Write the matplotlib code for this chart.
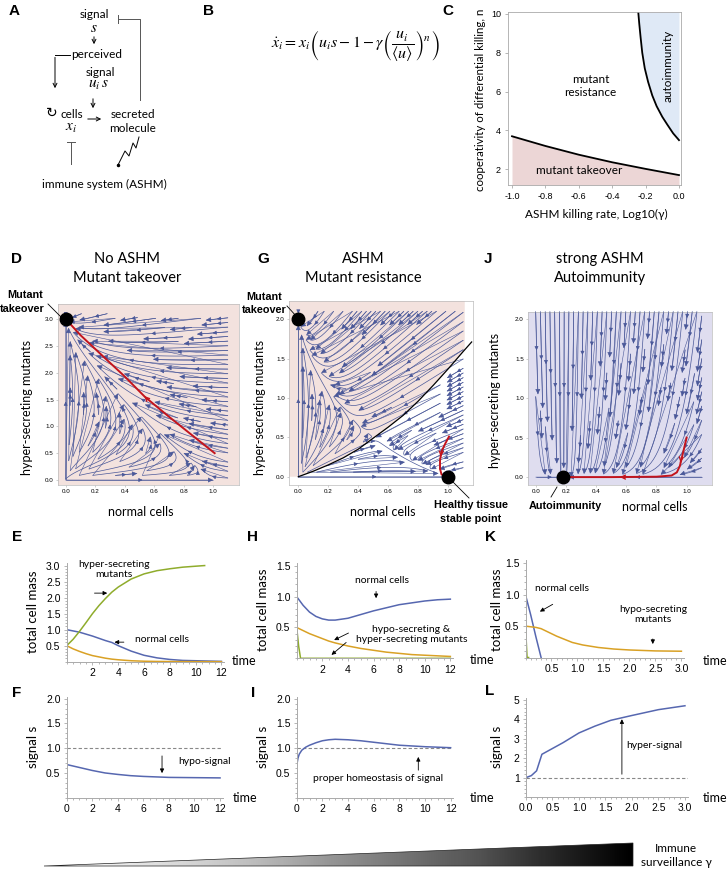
import numpy as np
import matplotlib
matplotlib.use('Agg')
import matplotlib.pyplot as plt
from matplotlib.patches import Polygon

plt.rcParams['font.family'] = ['Liberation Sans', 'DejaVu Sans']
plt.rcParams['mathtext.fontset'] = 'stix'

W, H = 727, 871
LAB = 'Lato'
BLUE = '#5667b0'
ORANGE = '#d9a125'
GREEN = '#8fac2c'
RED = '#c3141c'
STREAM = '#4a5899'

# ---------------- data ----------------
# panel C phase boundaries
low_x = [-1.0, -0.8, -0.6, -0.4, -0.2, 0.0]
low_n = [3.7, 3.2, 2.75, 2.36, 2.02, 1.7]
up_x = [-0.244, -0.238, -0.23, -0.22, -0.205, -0.185, -0.16, -0.134, -0.1, -0.07, -0.035, 0.0]
up_n = [10.1, 9.5, 8.8, 8.0, 7.2, 6.5, 5.8, 5.25, 4.7, 4.3, 3.85, 3.5]

# phase portrait models (Lotka-Volterra style competition)
D_a, D_b, D_r, D_K = 0.6, 0.3, 0.6, 3.0
G_a, G_b, G_r, G_K = 1.0, 1.5, 1.0, 2.0
J_fix, J_rx, J_ry = 0.18, 0.5, 4.0

D_red_x = [0.0, 0.1, 0.232, 0.4, 0.537, 0.7, 0.85, 1.01]
D_red_y = [3.0, 2.7, 2.36, 1.93, 1.55, 1.18, 0.85, 0.5]
G_sep_x = [0, 0.1, 0.2, 0.3, 0.4, 0.5, 0.6, 0.7, 0.8, 0.9, 1.0, 1.1, 1.156]
G_sep_y = [0, 0.07, 0.15, 0.24, 0.35, 0.49, 0.63, 0.78, 0.96, 1.16, 1.37, 1.59, 1.71]
G_red_x = [1.005, 0.98, 0.955, 0.945, 0.945, 0.955, 0.975, 1.0]
G_red_y = [0.51, 0.42, 0.32, 0.21, 0.1, 0.03, 0.005, 0.0]
J_red_x = [1.0, 0.985, 0.97, 0.955, 0.935, 0.9, 0.8, 0.5, 0.18]
J_red_y = [0.5, 0.38, 0.26, 0.14, 0.06, 0.02, 0.005, 0.0, 0.0]

# time courses
tE = [0, 0.5, 1, 1.5, 2, 2.5, 3, 3.5, 4, 5, 6, 7, 8, 9, 10, 12]
E_normal = [1.0, 0.96, 0.92, 0.86, 0.8, 0.73, 0.66, 0.6, 0.5, 0.33, 0.2, 0.12, 0.07, 0.04, 0.03, 0.01]
E_hypo = [0.5, 0.4, 0.32, 0.25, 0.19, 0.15, 0.11, 0.08, 0.06, 0.03, 0.015, 0.008, 0.005, 0.003, 0.002, 0.0]
tE_hyper = [0, 0.5, 1, 1.5, 2, 2.5, 3, 3.5, 4, 5, 6, 7, 8, 9, 10, 10.7]
E_hyper = [0.5, 0.7, 0.95, 1.22, 1.5, 1.75, 1.97, 2.17, 2.33, 2.58, 2.74, 2.84, 2.9, 2.95, 2.98, 3.0]

tH = [0, 0.5, 1, 1.5, 2, 2.5, 3, 4, 5, 6, 7, 8, 9, 10, 11, 12]
H_normal = [1.0, 0.86, 0.75, 0.68, 0.64, 0.62, 0.62, 0.65, 0.71, 0.77, 0.82, 0.87, 0.9, 0.93, 0.95, 0.96]
H_hypo = [0.5, 0.45, 0.4, 0.36, 0.32, 0.28, 0.25, 0.2, 0.16, 0.13, 0.1, 0.08, 0.06, 0.05, 0.04, 0.03]
tH_hyper = [0, 0.15, 0.3, 12]
H_hyper = [0.5, 0.2, 0.0, 0.0]

tK_normal = [0, 0.1, 0.2, 0.3]
K_normal = [1.0, 0.68, 0.33, 0.0]
tK = [0, 0.1, 0.2, 0.3, 0.4, 0.5, 0.6, 0.75, 0.9, 1.1, 1.4, 1.7, 2.0, 2.5, 3.0]
K_hypo = [0.5, 0.49, 0.48, 0.46, 0.42, 0.38, 0.34, 0.29, 0.24, 0.2, 0.16, 0.135, 0.12, 0.105, 0.1]
tK_hyper = [0, 0.03, 0.06]
K_hyper = [0.5, 0.0, 0.0]

tF = [0, 1, 2, 3, 4, 5, 6, 7, 8, 10, 12]
F_signal = [0.67, 0.61, 0.55, 0.5, 0.47, 0.445, 0.43, 0.42, 0.41, 0.405, 0.4]
tI = [0, 0.1, 0.2, 0.4, 0.7, 1.0, 1.5, 2, 2.5, 3, 4, 5, 6, 7, 8, 9, 10, 11, 12]
I_signal = [0.65, 0.8, 0.88, 0.96, 1.02, 1.06, 1.11, 1.15, 1.17, 1.18, 1.17, 1.15, 1.12, 1.09, 1.06, 1.045, 1.03, 1.02, 1.01]
tL = [0, 0.1, 0.2, 0.3, 0.4, 0.5, 0.7, 1.0, 1.3, 1.6, 2.0, 2.5, 3.0]
L_signal = [1.0, 1.1, 1.35, 2.2, 2.35, 2.5, 2.8, 3.3, 3.65, 3.95, 4.2, 4.5, 4.7]
set_point = 1.0

fig = plt.figure(figsize=(W / 100, H / 100), dpi=100)


def px_axes(l, t, r, b):
    return fig.add_axes([l / W, 1 - b / H, (r - l) / W, (b - t) / H])


# ================ panel C =================
axc = px_axes(508, 12, 681, 185)
axc.set_xlim(-1.024, 0.012)
axc.set_ylim(1.19, 10.1)
axc.fill_between(low_x, 1.19, low_n, color='#ecd6d6', lw=0)
axc.fill_betweenx(up_n, up_x, 0, color='#dfe9f6', lw=0)
axc.plot(low_x, low_n, color='k', lw=1.3)
axc.plot(up_x, up_n, color='k', lw=1.3)
axc.set_xticks([-1.0, -0.8, -0.6, -0.4, -0.2, 0.0])
axc.set_xticklabels(['-1.0', '-0.8', '-0.6', '-0.4', '-0.2', '0.0'])
axc.set_yticks([2, 4, 6, 8, 10])
axc.tick_params(labelsize=6.5, length=2, width=0.5, color='#999999', pad=3)
for s in axc.spines.values():
    s.set_color('#aaaaaa')
    s.set_linewidth(0.6)
axc.text(-0.53, 6.3, 'mutant\nresistance', ha='center', va='center', fontsize=8.5, family=LAB)
axc.text(-0.6, 1.95, 'mutant takeover', ha='center', va='center', fontsize=8.5, family=LAB)
axc.text(-0.065, 7.3, 'autoimmunity', ha='center', va='center', rotation=90, fontsize=8.5, family=LAB)


# ================ phase portraits =================
def style_phase(ax, yticks):
    ax.set_xticks([0, 0.2, 0.4, 0.6, 0.8, 1.0])
    ax.set_xticklabels(['0.0', '0.2', '0.4', '0.6', '0.8', '1.0'])
    ax.set_yticks(yticks)
    ax.set_yticklabels(['%.1f' % v for v in yticks])
    ax.tick_params(labelsize=4.5, length=1.5, width=0.4, color='#aaaaaa', pad=1.5)
    for s in ax.spines.values():
        s.set_color('#bbbbbb')
        s.set_linewidth(0.5)


def stream(ax, u, v, xmax, ymax, dens, spacing):
    X, Y = np.meshgrid(np.linspace(0, xmax, 120), np.linspace(0, ymax, 120))
    sp = ax.streamplot(X, Y, u(X, Y), v(X, Y), density=dens, color=STREAM, linewidth=0.5,
                       arrowsize=0.55, arrowstyle='-|>')
    # extra arrowheads along each streamline, Mathematica style
    acc, prev = 0.0, None
    for seg in sp.lines.get_segments():
        p0, p1 = seg[0], seg[-1]
        if prev is None or abs(p0[0] - prev[0]) > 1e-9 or abs(p0[1] - prev[1]) > 1e-9:
            acc = spacing * 0.5
        acc += np.hypot((p1[0] - p0[0]) / xmax, (p1[1] - p0[1]) / ymax)
        if acc >= spacing:
            ax.annotate('', xy=(p1[0], p1[1]), xytext=(p0[0], p0[1]),
                        arrowprops=dict(arrowstyle='-|>,head_length=0.5,head_width=0.25', color=STREAM,
                                        lw=0.4, mutation_scale=6, shrinkA=0, shrinkB=0))
            acc = 0.0
        prev = p1


def red_path(ax, xs, ys, arrows):
    ax.plot(xs, ys, color=RED, lw=1.4, zorder=5)
    for (x0, y0, x1, y1) in arrows:
        ax.annotate('', xy=(x1, y1), xytext=(x0, y0),
                    arrowprops=dict(arrowstyle='->', color=RED, lw=1.0, mutation_scale=7), zorder=6)


# D
axd = px_axes(58, 304, 239, 485)
axd.set_facecolor('#f3e2de')
stream(axd, lambda x, y: x * (1 - x - D_a * y), lambda x, y: D_r * y * (1 - y / D_K - D_b * x),
       1.1, 3.1, 1.25, 0.07)
axd.set_xlim(-0.052, 1.175)
axd.set_ylim(-0.093, 3.28)
red_path(axd, D_red_x, D_red_y, [(0.56, 1.49, 0.52, 1.6)])
axd.plot([D_red_x[0]], [D_red_y[0]], 'o', color='k', ms=9, zorder=7)
style_phase(axd, [0, 0.5, 1.0, 1.5, 2.0, 2.5, 3.0])

# G
axg = px_axes(289, 301, 473, 485)
pink = [(-0.062, 0.0)] + [(x, y) for x, y in zip(G_sep_x, G_sep_y) if x <= 1.11] + [(1.11, 1.62), (1.11, 2.23), (-0.062, 2.23)]
axg.add_patch(Polygon(pink, closed=True, color='#f3e2de', lw=0, zorder=0))
stream(axg, lambda x, y: x * (1 - x - G_a * y), lambda x, y: G_r * y * (1 - y / G_K - G_b * x),
       1.1, 2.1, 1.25, 0.07)
axg.plot(G_sep_x, G_sep_y, color='k', lw=0.9, zorder=4)
axg.set_xlim(-0.062, 1.165)
axg.set_ylim(-0.105, 2.23)
red_path(axg, G_red_x, G_red_y, [(0.952, 0.3, 0.946, 0.22)])
axg.plot([0.0, 1.0], [2.0, 0.0], 'o', color='k', ms=9, zorder=7)
style_phase(axg, [0, 0.5, 1.0, 1.5, 2.0])

# J
axj = px_axes(528, 312, 712, 485)
axj.set_facecolor('#dfddef')
stream(axj, lambda x, y: J_rx * (J_fix - x), lambda x, y: -J_ry * y, 1.1, 2.1, 1.2, 0.06)
axj.set_xlim(-0.051, 1.168)
axj.set_ylim(-0.10, 2.09)
red_path(axj, J_red_x, J_red_y, [(0.962, 0.22, 0.956, 0.15), (0.6, 0.0, 0.54, 0.0)])
axj.plot([J_fix], [0.0], 'o', color='k', ms=9, zorder=7)
style_phase(axj, [0, 0.5, 1.0, 1.5, 2.0])


# ================ time courses =================
def style_time(ax, xt, xl, yt, yl):
    ax.set_xticks(xt)
    ax.set_xticklabels(xl)
    ax.set_yticks(yt)
    ax.set_yticklabels(yl)
    ax.spines['top'].set_visible(False)
    ax.spines['right'].set_visible(False)
    for s in ('left', 'bottom'):
        ax.spines[s].set_color('#aaaaaa')
        ax.spines[s].set_linewidth(0.7)
    ax.minorticks_on()
    ax.tick_params(which='both', labelsize=7.5, length=2.5, width=0.5, color='#999999', pad=2)
    ax.tick_params(which='minor', length=1.2)
    ax.set_facecolor('none')


def arrow(ax, x0, y0, x1, y1):
    ax.annotate('', xy=(x1, y1), xytext=(x0, y0),
                arrowprops=dict(arrowstyle='-|>', color='k', lw=0.6, mutation_scale=6))


# E
axe = px_axes(66.7, 563, 224, 661.7)
axe.plot(tE, E_normal, color=BLUE, lw=1.1)
axe.plot(tE, E_hypo, color=ORANGE, lw=1.1)
axe.plot(tE_hyper, E_hyper, color=GREEN, lw=1.1)
axe.set_xlim(0, 12.2)
axe.set_ylim(0, 3.08)
style_time(axe, [2, 4, 6, 8, 10, 12], ['2', '4', '6', '8', '10', '12'],
           [0.5, 1.0, 1.5, 2.0, 2.5, 3.0], ['0.5', '1.0', '1.5', '2.0', '2.5', '3.0'])
axe.text(3.67, 2.87, 'hyper-secreting\nmutants', ha='center', va='center', fontsize=7.5, family=LAB, linespacing=1.1)
arrow(axe, 1.94, 2.14, 3.36, 2.14)
axe.text(7.36, 0.68, 'normal cells', ha='center', va='center', fontsize=7.5, family=LAB)
arrow(axe, 4.65, 0.61, 3.49, 0.61)

# H
axh = px_axes(296.7, 562.8, 452.9, 658.3)
axh.plot(tH, H_normal, color=BLUE, lw=1.1)
axh.plot(tH, H_hypo, color=ORANGE, lw=1.1)
axh.plot(tH_hyper, H_hyper, color=GREEN, lw=1.1)
axh.set_xlim(0, 12.2)
axh.set_ylim(0, 1.55)
style_time(axh, [2, 4, 6, 8, 10, 12], ['2', '4', '6', '8', '10', '12'],
           [0.5, 1.0, 1.5], ['0.5', '1.0', '1.5'])
axh.text(6.64, 1.26, 'normal cells', ha='center', va='center', fontsize=7.5, family=LAB)
arrow(axh, 6.2, 1.13, 6.2, 0.93)
axh.text(8.97, 0.39, 'hypo-secreting &\nhyper-secreting mutants', ha='center', va='center',
         fontsize=7.5, family=LAB, linespacing=1.15)
arrow(axh, 4.24, 0.43, 2.73, 0.276)
arrow(axh, 4.03, 0.286, 2.55, 0.026)

# K
axk = px_axes(525.5, 560.3, 684, 657.5)
axk.plot(tK_normal, K_normal, color=BLUE, lw=1.1)
axk.plot(tK, K_hypo, color=ORANGE, lw=1.1)
axk.plot(tK_hyper, K_hyper, color=GREEN, lw=1.1)
axk.set_xlim(0, 3.05)
axk.set_ylim(0, 1.55)
style_time(axk, [0.5, 1.0, 1.5, 2.0, 2.5, 3.0], ['0.5', '1.0', '1.5', '2.0', '2.5', '3.0'],
           [0.5, 1.0, 1.5], ['0.5', '1.0', '1.5'])
axk.text(0.70, 1.10, 'normal cells', ha='center', va='center', fontsize=7.5, family=LAB)
arrow(axk, 0.57, 0.87, 0.23, 0.71)
axk.text(2.46, 0.68, 'hypo-secreting\nmutants', ha='center', va='center', fontsize=7.5, family=LAB, linespacing=1.15)
arrow(axk, 2.45, 0.34, 2.45, 0.17)

# F
axf = px_axes(66.7, 697.2, 222.6, 797.7)
axf.axhline(set_point, color='#888888', lw=0.8, ls=(0, (3, 2)))
axf.plot(tF, F_signal, color=BLUE, lw=1.1)
axf.set_xlim(0, 12.2)
axf.set_ylim(0, 2.03)
style_time(axf, [0, 2, 4, 6, 8, 10, 12], ['0', '2', '4', '6', '8', '10', '12'],
           [0.5, 1.0, 1.5, 2.0], ['0.5', '1.0', '1.5', '2.0'])
axf.text(10.8, 0.74, 'hypo-signal', ha='center', va='center', fontsize=7.5, family=LAB)
arrow(axf, 7.46, 0.9, 7.46, 0.44)

# I
axi = px_axes(296.7, 697.2, 453.2, 797.7)
axi.axhline(set_point, color='#888888', lw=0.8, ls=(0, (3, 2)))
axi.plot(tI, I_signal, color=BLUE, lw=1.1)
axi.set_xlim(0, 12.2)
axi.set_ylim(0, 2.03)
style_time(axi, [0, 2, 4, 6, 8, 10, 12], ['0', '2', '4', '6', '8', '10', '12'],
           [0.5, 1.0, 1.5, 2.0], ['0.5', '1.0', '1.5', '2.0'])
axi.text(6.34, 0.39, 'proper homeostasis of signal', ha='center', va='center', fontsize=7.5, family=LAB)
arrow(axi, 9.48, 0.5, 9.48, 0.88)

# L
axl = px_axes(526, 698, 687.6, 797)
axl.axhline(set_point, color='#888888', lw=0.8, ls=(0, (3, 2)))
axl.plot(tL, L_signal, color=BLUE, lw=1.1)
axl.set_xlim(0, 3.05)
axl.set_ylim(0, 5.1)
style_time(axl, [0, 0.5, 1.0, 1.5, 2.0, 2.5, 3.0], ['0.0', '0.5', '1.0', '1.5', '2.0', '2.5', '3.0'],
           [1, 2, 3, 4, 5], ['1', '2', '3', '4', '5'])
axl.text(2.43, 2.63, 'hyper-signal', ha='center', va='center', fontsize=7.5, family=LAB)
arrow(axl, 1.81, 1.03, 1.81, 4.15)

# ================ overlay: diagram, labels, letters =================
ov = fig.add_axes([0, 0, 1, 1])
ov.set_xlim(0, W)
ov.set_ylim(H, 0)
ov.axis('off')
ov.set_zorder(10)
ov.patch.set_alpha(0)


def t(x, y, s, **kw):
    kw.setdefault('ha', 'center')
    kw.setdefault('va', 'center')
    ov.text(x, y, s, **kw)


for letter, x, y in [('A', 14, 11), ('B', 208, 11), ('C', 448, 11), ('D', 17, 259), ('G', 263, 259),
                     ('J', 488, 259), ('E', 17, 537), ('H', 253, 537), ('K', 490, 537),
                     ('F', 17, 693), ('I', 253, 693), ('L', 490, 691)]:
    t(x, y, letter, fontsize=11, fontweight='bold')

# panel A diagram
dk = dict(fontsize=8.5, family=LAB)
t(94, 14, 'signal', **dk)
t(94, 28, r'$s$', fontsize=11)
t(97, 55, 'perceived', **dk)
t(100, 72, 'signal', **dk)
t(98, 85, r'$u_i\,s$', fontsize=11)
t(72, 114, 'cells', **dk)
t(71, 128, r'$x_i$', fontsize=11)
t(133, 114, 'secreted', **dk)
t(133, 128, 'molecule', **dk)
t(104, 184, 'immune system (ASHM)', **dk)
ap = dict(arrowstyle='->', color='k', lw=0.7, mutation_scale=7)
ov.annotate('', xy=(94, 47), xytext=(94, 34), arrowprops=ap)
ov.annotate('', xy=(93, 111), xytext=(93, 96), arrowprops=ap)
ov.annotate('', xy=(104, 119), xytext=(85, 119), arrowprops=ap)
ov.plot([70, 55], [55, 55], color='k', lw=0.7)
ov.annotate('', xy=(55, 91), xytext=(55, 54.6), arrowprops=ap)
ov.plot([140, 140, 118], [100, 19, 19], color='#555555', lw=0.7)
ov.plot([118, 118], [15, 23], color='#555555', lw=0.7)
ov.plot([71, 71], [164, 142], color='#555555', lw=0.7)
ov.plot([67, 75], [142, 142], color='#555555', lw=0.7)
ov.plot([118, 125, 129, 133, 136, 139], [165, 151, 156, 143, 148, 137], color='k', lw=0.7)
ov.plot([118], [165], 'o', color='k', ms=1.5)
t(52, 113, '\u21bb', fontsize=10, family='DejaVu Sans')

# panel B equation
t(355, 45, r'$\dot{x}_i = x_i\left(u_i s - 1 - \gamma\left(\dfrac{u_i}{\langle u\rangle}\right)^{n}\right)$', fontsize=11.5)

# panel C axis labels
t(480, 100, 'cooperativity of differential killing, n', rotation=90, fontsize=8.3, family=LAB)
t(596, 214, 'ASHM killing rate, Log10(\u03b3)', fontsize=8.5, family=LAB)

# phase titles / labels
tk = dict(fontsize=10.5, family=LAB)
for cx, l1, l2 in [(126.7, 'No ASHM', 'Mutant takeover'), (363, 'ASHM', 'Mutant resistance'),
                   (600, 'strong ASHM', 'Autoimmunity')]:
    t(cx, 259, l1, **tk)
    t(cx, 278, l2, **tk)
for cx, cy in [(27, 407), (260, 407), (495, 400)]:
    t(cx, cy, 'hyper-secreting mutants', rotation=90, fontsize=9, family=LAB)
for cx, cy in [(140.5, 512), (383, 512), (655, 507)]:
    t(cx, cy, 'normal cells', fontsize=9, family=LAB)
bk = dict(fontsize=7.8, fontweight='bold')
t(25, 295, 'Mutant', **bk)
t(22, 309, 'takeover', **bk)
ov.plot([48, 61], [304, 317], color='k', lw=0.6)
t(264, 297, 'Mutant', **bk)
t(264, 310, 'takeover', **bk)
ov.plot([287, 297], [306, 317], color='k', lw=0.6)
t(471, 505, 'Healthy tissue', **bk)
t(471, 519, 'stable point', **bk)
ov.plot([452, 469], [481, 498], color='k', lw=0.6)
t(565.5, 506, 'Autoimmunity', **bk)
ov.plot([557, 551], [487, 497], color='k', lw=0.6)

# time labels
for x, y in [(232, 661), (470, 660), (703, 661), (233, 798), (470, 798), (703, 798)]:
    t(x, y, 'time', ha='left', fontsize=9, family=LAB)
for cx, cy in [(33, 612), (263, 610), (497, 610)]:
    t(cx, cy, 'total cell mass', rotation=90, fontsize=9.5, family=LAB)
for cx, cy in [(33, 747), (263, 747), (497, 747)]:
    t(cx, cy, 'signal s', rotation=90, fontsize=9.5, family=LAB)

# gradient wedge
grad = np.linspace(0.03, 1.0, 256).reshape(1, -1)
wedge = Polygon([(44, 866), (633, 843), (633, 866)], closed=True, transform=ov.transData,
                facecolor='none', edgecolor='#222222', lw=0.5)
im = ov.imshow(grad, extent=(44, 633, 866, 843), cmap='Greys', aspect='auto', vmin=0, vmax=1)
im.set_clip_path(wedge)
ov.add_patch(wedge)
ov.set_xlim(0, W)
ov.set_ylim(H, 0)
t(676, 848, 'Immune', fontsize=8.5, family=LAB)
t(676, 862, 'surveillance \u03b3', fontsize=8.5, family=LAB)

fig.savefig('out.png', dpi=100)
